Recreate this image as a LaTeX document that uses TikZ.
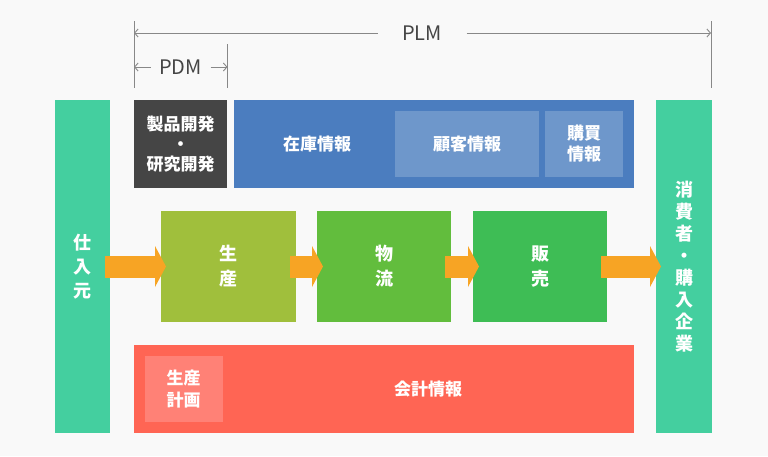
\documentclass[tikz,border=0pt]{standalone}
\usepackage{fontspec}
\setmainfont{Noto Sans CJK JP}
\usetikzlibrary{arrows.meta}
\definecolor{bg}{HTML}{F9F9F9}
\definecolor{teal}{HTML}{44CF9F}
\definecolor{darkbox}{HTML}{454545}
\definecolor{blue}{HTML}{4B7DBF}
\definecolor{lightblue}{HTML}{6E97CB}
\definecolor{gA}{HTML}{A0BF3C}
\definecolor{gB}{HTML}{62BD3D}
\definecolor{gC}{HTML}{3EBD55}
\definecolor{red}{HTML}{FF6554}
\definecolor{lightred}{HTML}{FF8176}
\definecolor{orange}{HTML}{F7A424}
\definecolor{dimgray}{HTML}{454545}
\definecolor{linegray}{HTML}{888888}
\begin{document}
\begin{tikzpicture}[x=1pt,y=-1pt,
  box/.style={inner sep=0pt, outer sep=0pt, text=white, align=center,
    font=\bfseries\fontsize{17}{20}\selectfont},
  lbl/.style={inner sep=0pt, outer sep=0pt, text=white, align=center,
    font=\bfseries\fontsize{17}{20}\selectfont},
  flow/.style={draw=orange, line width=22pt,
    -{Triangle[length=11pt,width=41pt,line width=0pt]}},
  dim/.style={draw=linegray, line width=0.9pt, -{Straight Barb[length=3.5pt,width=8pt]}},
  tick/.style={draw=linegray, line width=0.9pt},
  dimlbl/.style={inner sep=0pt, outer sep=0pt, text=dimgray, font=\fontsize{20}{22}\selectfont}
]
\fill[bg] (0,0) rectangle (768,456);
\useasboundingbox (0,0) rectangle (768,456);

% dimension lines
\draw[tick] (134,21) -- (134,88);
\draw[tick] (711,21) -- (711,88);
\draw[tick] (227.5,44) -- (227.5,88);
\coordinate (plmL) at (134,33);
\coordinate (plmR) at (711,33);
\node[dimlbl, minimum width=89pt] (plm) at (422,33) {PLM};
\draw[dim] (plm.west) -- (plmL);
\draw[dim] (plm.east) -- (plmR);
\coordinate (pdmL) at (134,67);
\coordinate (pdmR) at (227.5,67);
\node[dimlbl, minimum width=60pt] (pdm) at (180.5,67) {PDM};
\draw[dim] (pdm.west) -- (pdmL);
\draw[dim] (pdm.east) -- (pdmR);

% side bars
\node[box, fill=teal, minimum width=55pt, minimum height=333pt,
  font=\bfseries\fontsize{18}{24}\selectfont] (shiire) at (82.5,266.5) {仕\\入\\元};
\node[box, fill=teal, minimum width=56pt, minimum height=333pt,
  font=\bfseries\fontsize{18}{22}\selectfont] (shohi) at (684,266.5) {消\\費\\者\\・\\購\\入\\企\\業};

% top row
\node[box, fill=darkbox, minimum width=93pt, minimum height=88pt] (kaihatsu) at (180.5,144) {製品開発\\・\\研究開発};
\node[box, fill=blue, minimum width=400pt, minimum height=88pt] (zaiko) at (434,144) {};
\node[lbl] (zaikolbl) at (317,144) {在庫情報};
\node[box, fill=lightblue, minimum width=144pt, minimum height=66pt] (kokyaku) at (467,144) {顧客情報};
\node[box, fill=lightblue, minimum width=78pt, minimum height=66pt,
  font=\bfseries\fontsize{17}{21}\selectfont] (kobai) at (584,144) {購買\\情報};

% middle row
\node[box, fill=gA, minimum width=135pt, minimum height=111pt,
  font=\bfseries\fontsize{18}{25}\selectfont] (seisan) at (228.5,266.5) {生\\産};
\node[box, fill=gB, minimum width=134pt, minimum height=111pt,
  font=\bfseries\fontsize{18}{25}\selectfont] (butsuryu) at (384,266.5) {物\\流};
\node[box, fill=gC, minimum width=134pt, minimum height=111pt,
  font=\bfseries\fontsize{18}{25}\selectfont] (hanbai) at (540,266.5) {販\\売};

% bottom row
\node[box, fill=red, minimum width=500pt, minimum height=88pt] (kaikei) at (384,389) {};
\node[lbl] (kaikeilbl) at (428,389) {会計情報};
\node[box, fill=lightred, minimum width=78pt, minimum height=66pt,
  font=\bfseries\fontsize{17}{22}\selectfont] (keikaku) at (183.5,389) {生産\\計画};

% flow arrows
\draw[flow] ([xshift=-5pt]shiire.east) -- ([xshift=5pt]seisan.west);
\draw[flow] ([xshift=-6pt]seisan.east) -- ([xshift=6pt]butsuryu.west);
\draw[flow] ([xshift=-6pt]butsuryu.east) -- ([xshift=6pt]hanbai.west);
\draw[flow] ([xshift=-6pt]hanbai.east) -- ([xshift=5pt]shohi.west);
\end{tikzpicture}
\end{document}
